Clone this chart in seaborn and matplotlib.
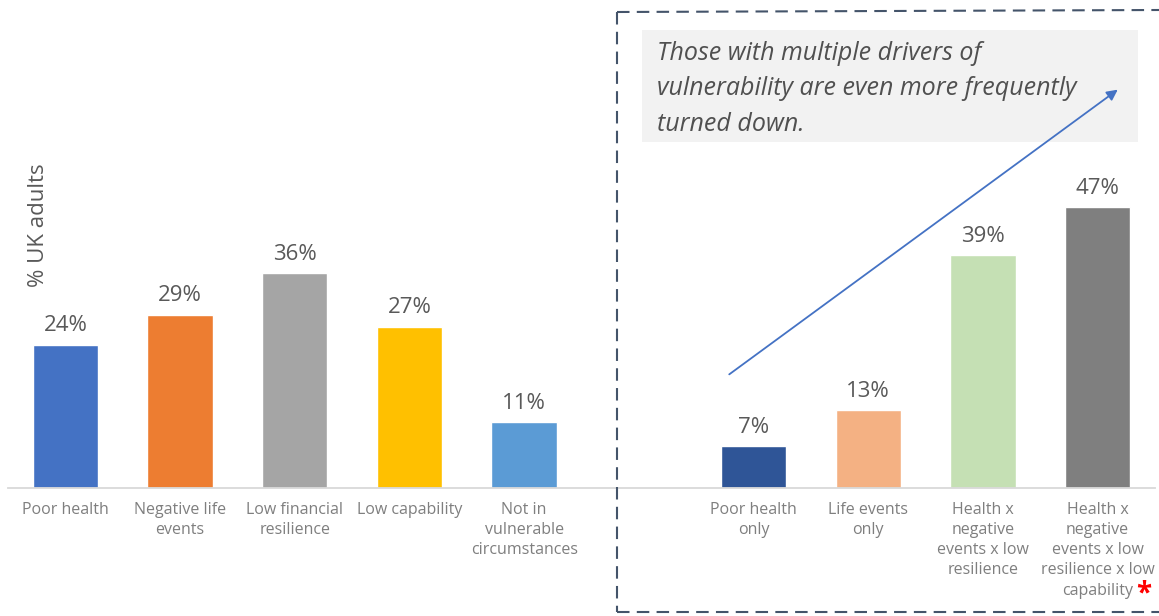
import numpy as np
import pandas as pd
import matplotlib.pyplot as plt
import matplotlib.patches as mpatches
from matplotlib.lines import Line2D
import seaborn as sns

# =============================
# Data
# =============================
categories = ["Poor health", "Negative life events", "Low financial resilience",
              "Low capability", "Not in vulnerable circumstances",
              "Poor health only", "Life events only",
              "Health x negative events x low resilience",
              "Health x negative events x low resilience x low capability"]
values = [24, 29, 36, 27, 11, 7, 13, 39, 47]
bar_colors = ["#4472C4", "#ED7D31", "#A5A5A5", "#FFC000", "#5B9BD5",
              "#2F5597", "#F4B183", "#C5E0B4", "#7F7F7F"]
# last label's final line is drawn separately so the red asterisk can follow it
tick_labels = ["Poor health", "Negative life\nevents", "Low financial\nresilience",
               "Low capability", "Not in\nvulnerable\ncircumstances", "",
               "Poor health\nonly", "Life events\nonly",
               "Health x\nnegative\nevents x low\nresilience",
               "Health x\nnegative\nevents x low\nresilience x low"]
last_line = "capability"
# empty slot between the two groups
order = categories[:5] + [" "] + categories[5:]

df = pd.DataFrame({"category": categories, "value": values})

# =============================
# Plot
# =============================
sns.set_style("white")
plt.rcParams['font.family'] = ['Open Sans', 'DejaVu Sans']

W, H = 1159, 616
fig = plt.figure(figsize=(W / 100, H / 100), dpi=100)
ax = fig.add_axes([8 / W, 1 - 488 / H, (1155 - 8) / W, 478 / H])

sns.barplot(data=df, x="category", y="value", order=order, hue="category",
            hue_order=categories, palette=bar_colors, width=0.57,
            legend=False, ax=ax, saturation=1)

ax.set_ylim(0, 80)
ax.set_xlim(-0.5, 9.5)
ax.set_ylabel("")
ax.set_xlabel("")
ax.set_yticks([])
for s in ["left", "right", "top"]:
    ax.spines[s].set_visible(False)
ax.spines["bottom"].set_color("#D9D9D9")
ax.spines["bottom"].set_linewidth(1.3)

ax.set_xticks(range(10))
ax.set_xticklabels(tick_labels, fontsize=11.5, color="#7F7F7F", linespacing=1.35)
ax.tick_params(axis="x", which="major", length=0, pad=10)
ax.set_xticks(np.arange(-0.5, 10, 1), minor=True)
ax.tick_params(axis="x", which="minor", length=6, color="#D9D9D9", width=1.2)

# fifth line of the last label plus the red asterisk
ax.annotate(last_line, xy=(order.index(categories[-1]), 0),
            xycoords=("data", "axes fraction"), xytext=(0, -74.5),
            textcoords="offset points", ha="center", va="center",
            fontsize=11.5, color="#7F7F7F")
ax.annotate("*", xy=(order.index(categories[-1]), 0),
            xycoords=("data", "axes fraction"), xytext=(27.5, -76),
            textcoords="offset points", ha="left", va="center",
            fontsize=20, fontweight="bold", color="red")

for c in ax.containers:
    ax.bar_label(c, labels=[f"{v:.0f}%" for v in c.datavalues],
                 padding=6, fontsize=16, color="#595959")

# axis title
fig.text(38 / W, 1 - 225 / H, "% UK adults", rotation=90, fontsize=16,
         color="#595959", ha="center", va="center")

# dashed call-out frame
dash = dict(color="#44546A", lw=1.5, linestyle=(0, (6, 3.5)), transform=fig.transFigure)
fig.add_artist(Line2D([617 / W, 617 / W], [1 - 12 / H, 1 - 612 / H], **dash))
fig.add_artist(Line2D([617 / W, 1], [1 - 12 / H, 1 - 10 / H], **dash))
fig.add_artist(Line2D([617 / W, 1], [1 - 612 / H, 1 - 612 / H], **dash))

# annotation box
fig.add_artist(mpatches.Rectangle((642 / W, 1 - 142 / H), (1138 - 642) / W, 112 / H,
                                  transform=fig.transFigure, facecolor="#F2F2F2",
                                  edgecolor="none", zorder=1))
fig.text(657 / W, 1 - 41 / H,
         "Those with multiple drivers of\nvulnerability are even more frequently\nturned down.",
         fontsize=18, style="italic", color="#505050", ha="left", va="top",
         linespacing=1.55, zorder=2)

# trend arrow, drawn over the grey box
fig.add_artist(mpatches.FancyArrowPatch((727 / W, 1 - 376 / H), (1120 / W, 1 - 88 / H),
                                        transform=fig.transFigure, arrowstyle="-|>",
                                        color="#4472C4", lw=1.3, mutation_scale=16,
                                        zorder=3))

fig.savefig("out.png", dpi=100)
